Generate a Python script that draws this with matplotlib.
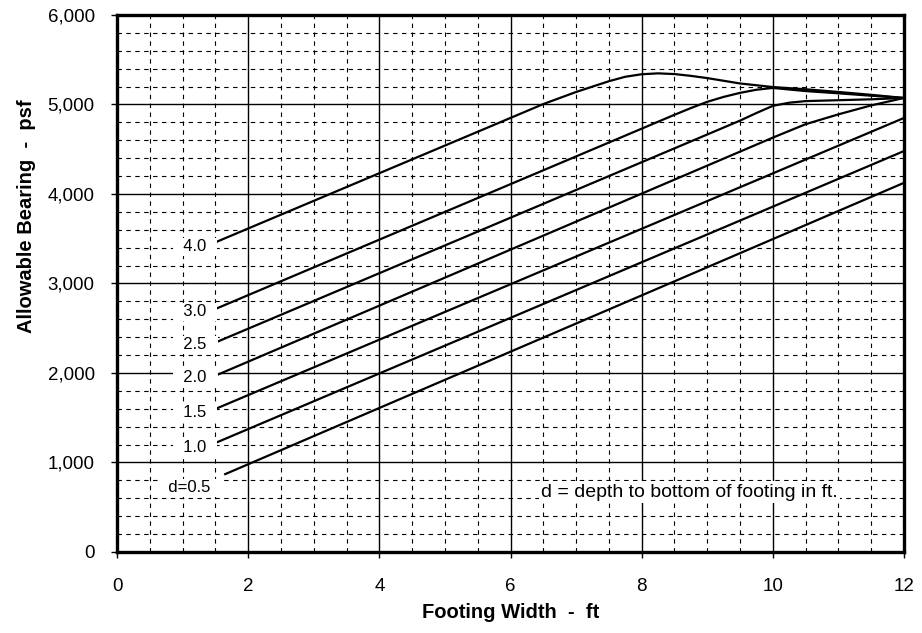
import numpy as np
import matplotlib
matplotlib.use("Agg")
import matplotlib.pyplot as plt
from matplotlib.ticker import MultipleLocator

plt.rcParams['font.family'] = ['Liberation Sans', 'DejaVu Sans']

# Curves: footing width (ft) -> allowable bearing (psf)
d05_x = [1.65, 12.0]
d05_y = [870, 4125]

d10_x = [1.5, 12.0]
d10_y = [1218, 4480]

d15_x = [1.5, 12.0]
d15_y = [1598, 4850]

d20_x = [1.5, 10.0, 10.5, 11.0, 11.5, 12.0]
d20_y = [1970, 4630, 4780, 4890, 4990, 5073]

d25_x = [1.5, 9.5, 9.75, 10.0, 10.25, 10.5, 11.0, 11.5, 12.0]
d25_y = [2340, 4820, 4905, 4985, 5020, 5038, 5048, 5058, 5073]

d30_x = [1.5, 8.5, 8.75, 9.0, 9.25, 9.5, 9.75, 10.0, 10.5, 11.0, 11.5, 12.0]
d30_y = [2715, 4885, 4960, 5030, 5085, 5130, 5165, 5185, 5150, 5125, 5098, 5073]

d40_x = [1.5, 6.0, 6.5, 7.0, 7.5, 7.75, 8.0, 8.25, 8.5, 8.75, 9.0, 9.5, 10.0, 10.5, 11.0, 11.5, 12.0]
d40_y = [3460, 4850, 5005, 5140, 5260, 5310, 5338, 5348, 5340, 5320, 5295, 5235, 5195, 5170, 5140, 5108, 5073]

curves = [(d05_x, d05_y), (d10_x, d10_y), (d15_x, d15_y), (d20_x, d20_y),
          (d25_x, d25_y), (d30_x, d30_y), (d40_x, d40_y)]

# curve labels: text, x, y
label_text = ["d=0.5", "1.0", "1.5", "2.0", "2.5", "3.0", "4.0"]
label_x = [1.11, 1.19, 1.19, 1.19, 1.19, 1.19, 1.19]
label_y = [715, 1162, 1553, 1944, 2313, 2682, 3408]

y_ticks = [0, 1000, 2000, 3000, 4000, 5000, 6000]
y_tick_labels = ["0", "1,000", "2,000", "3,000", "4,000", "5,000", "6,000"]
x_ticks = [0, 2, 4, 6, 8, 10, 12]

fig = plt.figure(figsize=(9.22, 6.33), dpi=100)
ax = fig.add_axes([0.1269, 0.1280, 0.8536, 0.8483])

ax.set_xlim(0, 12)
ax.set_ylim(0, 6000)
ax.set_xticks(x_ticks)
ax.set_yticks(y_ticks)
ax.set_yticklabels(y_tick_labels)
ax.xaxis.set_minor_locator(MultipleLocator(0.5))
ax.yaxis.set_minor_locator(MultipleLocator(200))

# grid: solid major, dashed minor
ax.grid(which='major', color='black', linewidth=1.0, linestyle='-')
ax.grid(which='minor', color='black', linewidth=0.8, linestyle=(0, (4, 4)))
ax.set_axisbelow(True)

ax.tick_params(axis='x', which='major', pad=15)
ax.tick_params(axis='y', which='major', pad=12)
ax.tick_params(which='major', direction='out', length=4, width=1, labelsize=13.5)
ax.tick_params(which='minor', length=0)
for s in ax.spines.values():
    s.set_linewidth(2.4)

for cx, cy in curves:
    ax.plot(cx, cy, color='black', linewidth=1.6, zorder=3)

for t, lx, ly in zip(label_text, label_x, label_y):
    ax.text(lx, ly, "  " + t + "  ", ha='center', va='center', fontsize=12, zorder=4,
            bbox=dict(boxstyle='square,pad=0.1', fc='white', ec='none'))

ax.text(8.73, 670, "d = depth to bottom of footing in ft.", ha='center', va='center',
        fontsize=14, zorder=4,
        bbox=dict(boxstyle='square,pad=0.12', fc='white', ec='none'))

ax.set_xlabel("Footing Width  -  ft", fontsize=14.5, fontweight='bold')
ax.set_ylabel("Allowable Bearing  -  psf", fontsize=14.5, fontweight='bold')
ax.xaxis.set_label_coords(0.5, -0.095)
ax.yaxis.set_label_coords(-0.103, 0.626)

fig.savefig("out.png", dpi=100)
